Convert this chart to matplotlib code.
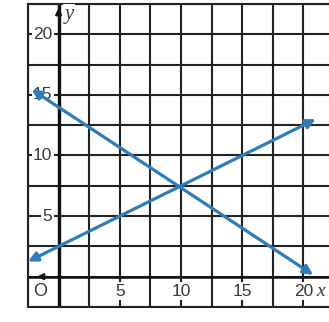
import numpy as np
import matplotlib
matplotlib.use('Agg')
from matplotlib import pyplot as plt

# two lines, each given by its two arrow tips (x, y)
desc_x = [-2.2, 20.8]
desc_y = [15.45, 0.15]
asc_x = [-2.5, 21.0]
asc_y = [1.25, 13.0]

x_ticks = [5, 10, 15, 20]
y_ticks = [5, 10, 15, 20]

LINE_BLUE = '#2f7db8'
GRID = '#222222'
TEXT = '#3a3a3a'

def main():
    fig = plt.figure(figsize=(3.29, 3.22), dpi=100)
    ax = fig.add_axes([28/329, 15/322, 1 - 28/329, 303/322])
    ax.set_xlim(-2.5, 22.09)
    ax.set_ylim(-2.5, 22.5)

    # square grid every 2.5 units
    for v in np.arange(-2.5, 22.6, 2.5):
        ax.axvline(v, color=GRID, lw=1.5, zorder=1)
        ax.axhline(v, color=GRID, lw=1.5, zorder=1)
    ax.axvline(0, color='#111111', lw=2.4, zorder=2)
    ax.axhline(0, color='#111111', lw=1.8, zorder=2)

    for side in ['top', 'left', 'bottom']:
        ax.spines[side].set_color(GRID)
        ax.spines[side].set_linewidth(1.5)
    ax.spines['right'].set_visible(False)
    ax.set_xticks([])
    ax.set_yticks([])

    box = dict(facecolor='white', edgecolor='none', pad=1.0)
    for t in x_ticks:
        ax.text(t, -1.2, str(t), ha='center', va='center', fontsize=12.5,
                family='Liberation Sans', color=TEXT, bbox=box, zorder=3)
    for t in y_ticks:
        ax.text(-0.5, t, str(t), ha='right', va='center', fontsize=12.5,
                family='Liberation Sans', color=TEXT, bbox=box, zorder=3)
    ax.text(-1.5, -1.2, 'O', ha='center', va='center', fontsize=13,
            family='Liberation Sans', color=TEXT, bbox=box, zorder=3)
    ax.text(21.4, -1.2, 'x', ha='center', va='center', fontsize=14,
            family='Liberation Serif', style='italic', color=TEXT, zorder=3)
    ax.text(0.5, 21.6, 'y', ha='left', va='center', fontsize=15,
            family='Liberation Serif', style='italic', color=TEXT, zorder=3,
            bbox=box)

    # small arrow tips on the axes
    ax.annotate('', xy=(-2.0, 0), xytext=(-0.8, 0),
                arrowprops=dict(arrowstyle='-|>', color='#111111', lw=1.5,
                                mutation_scale=9), zorder=4)
    ax.annotate('', xy=(0, 22.4), xytext=(0, 21.3),
                arrowprops=dict(arrowstyle='-|>', color='#111111', lw=1.5,
                                mutation_scale=9), zorder=4)

    for xs, ys in [(desc_x, desc_y), (asc_x, asc_y)]:
        ax.annotate('', xy=(xs[1], ys[1]), xytext=(xs[0], ys[0]),
                    arrowprops=dict(arrowstyle='<|-|>', color=LINE_BLUE,
                                    lw=2.3, mutation_scale=14,
                                    shrinkA=0, shrinkB=0), zorder=5)

    fig.savefig('out.png', dpi=100)

if __name__ == '__main__':
    main()
